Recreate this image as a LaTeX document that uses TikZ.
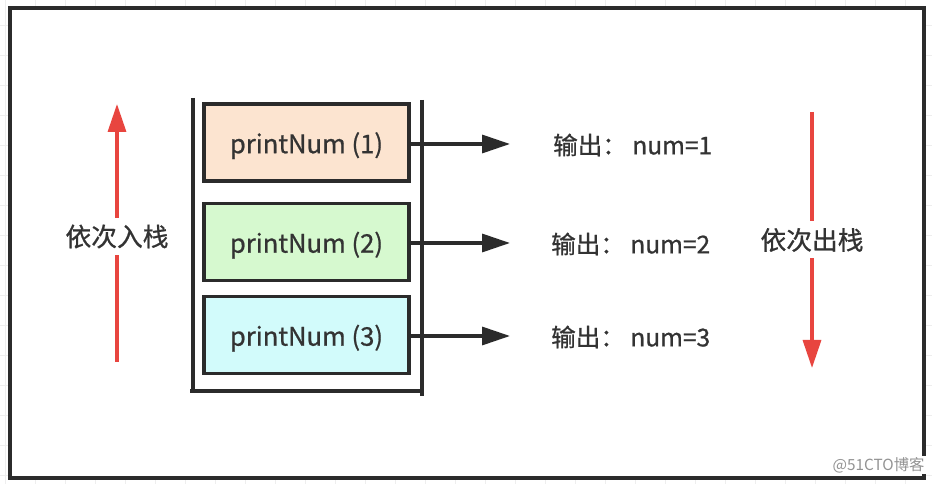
\documentclass[tikz,border=0pt]{standalone}
\usepackage{fontspec}
\setmainfont[FakeBold=0.8]{Noto Sans CJK SC}
\newfontfamily\wmfont{Noto Sans CJK SC}
\usetikzlibrary{arrows.meta}
\definecolor{ink}{HTML}{333333}
\definecolor{frame}{HTML}{2B2B2B}
\definecolor{redarrow}{HTML}{E8453F}
\definecolor{peach}{HTML}{FCE4D0}
\definecolor{mint}{HTML}{D6F9CF}
\definecolor{aqua}{HTML}{D2FBFB}
\definecolor{gridc}{HTML}{EEEEEE}
\tikzset{
  callbox/.style={draw=frame, line width=2.3pt, minimum width=205*0.75pt, minimum height=77*0.75pt,
    inner sep=0pt, outer sep=0pt, text=ink, text height=16.5pt, text depth=0.5pt,
    font=\fontsize{19.2}{21}\selectfont},
  outtext/.style={anchor=west, inner sep=0pt, text=ink, font=\fontsize{18.4}{20}\selectfont},
  sidelabel/.style={inner sep=0pt, outer sep=0pt, minimum height=37*0.75pt, text=ink, font=\fontsize{19.3}{21}\selectfont},
  blackarrow/.style={draw=frame, line width=2.5pt, -{Triangle[length=21pt,width=13.5pt]}},
  redline/.style={draw=redarrow, line width=2.5pt},
  redarr/.style={draw=redarrow, line width=2.5pt, -{Triangle[length=21pt,width=13.5pt]}},
  stackline/.style={draw=frame, line width=2.6pt},
}
\begin{document}
\begin{tikzpicture}[x=0.75pt,y=-0.75pt]
\useasboundingbox (0,0) rectangle (932,484);
\fill[white] (0,0) rectangle (932,484);
% faint grid outside the frame
\foreach \gx in {5,35,...,935} \draw[gridc, line width=0.5pt] (\gx,0) -- (\gx,484);
\foreach \gy in {-5,25,...,485} \draw[gridc, line width=0.5pt] (0,\gy) -- (932,\gy);
\fill[white] (10,8) rectangle (923.5,478);
\draw[frame, line width=3pt] (10,8) rectangle (923.5,478);

% stack container
\draw[stackline] (193,98) -- (193,393);
\draw[stackline] (190,391) -- (420,391);
\draw[stackline] (422,100) -- (422,396);

% call boxes
\node[callbox, fill=peach] (b1) at (306.5,142.5) {printNum (1)};
\node[callbox, fill=mint]  (b2) at (306.5,242) {printNum (2)};
\node[callbox, fill=aqua]  (b3) at (306.5,335) {printNum (3)};

% arrow ends
\coordinate (e1) at (510,144);
\coordinate (e2) at (510,243);
\coordinate (e3) at (510,336);
\draw[blackarrow] (b1.east |- e1) -- (e1);
\draw[blackarrow] (b2.east |- e2) -- (e2);
\draw[blackarrow] (b3.east |- e3) -- (e3);

% output texts
\node[outtext] (o1) at (553,145) {输出： num=1};
\node[outtext] (o2) at (551,244) {输出： num=2};
\node[outtext] (o3) at (551,337) {输出： num=3};

% left red arrow: push
\node[sidelabel] (pushl) at (117,236.5) {依次入栈};
\coordinate (pa0) at (117,362);
\coordinate (pa1) at (117,104);
\draw[redline] (pa0) -- (pushl);
\draw[redarr] (pushl) -- (pa1);

% right red arrow: pop
\node[sidelabel] (popl) at (812,240) {依次出栈};
\coordinate (qa0) at (812,112);
\coordinate (qa1) at (812,368);
\draw[redline] (qa0) -- (popl);
\draw[redarr] (popl) -- (qa1);

% watermark
\node[fill=white, inner sep=1pt, text=gray!85, font=\wmfont\fontsize{11.5}{13}\selectfont, anchor=east] (wm) at (926,465) {@51CTO博客};
\end{tikzpicture}
\end{document}
